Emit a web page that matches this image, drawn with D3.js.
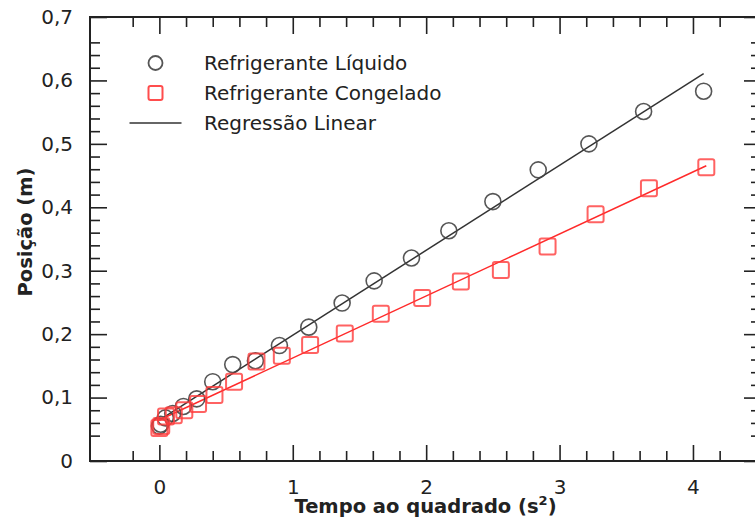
<!DOCTYPE html>
<html>
<head>
<meta charset="utf-8">
<script src="https://cdn.jsdelivr.net/npm/d3@7"></script>
<style>
  body { margin: 0; background: #fff; }
  text { font-family: "DejaVu Sans", Verdana, sans-serif; fill: #222; }
</style>
</head>
<body>
<div class="graph-container"></div>
<script>
// dados
var liquidoX = [0.00, 0.01, 0.045, 0.10, 0.18, 0.28, 0.40, 0.55, 0.72, 0.90, 1.12, 1.37, 1.61, 1.89, 2.17, 2.50, 2.84, 3.22, 3.63, 4.08];
var liquidoY = [0.055, 0.058, 0.068, 0.075, 0.086, 0.098, 0.125, 0.152, 0.158, 0.182, 0.211, 0.249, 0.284, 0.320, 0.363, 0.409, 0.459, 0.500, 0.551, 0.583];
var congeladoX = [0.00, 0.014, 0.05, 0.108, 0.187, 0.29, 0.413, 0.56, 0.728, 0.918, 1.13, 1.39, 1.66, 1.97, 2.26, 2.56, 2.91, 3.27, 3.67, 4.10];
var congeladoY = [0.052, 0.055, 0.070, 0.072, 0.080, 0.090, 0.104, 0.125, 0.157, 0.166, 0.183, 0.201, 0.232, 0.257, 0.283, 0.301, 0.338, 0.389, 0.430, 0.463];

var xTicks = [0, 1, 2, 3, 4];
var xMinor = [-0.2, 0.2, 0.4, 0.6, 0.8, 1.2, 1.4, 1.6, 1.8, 2.2, 2.4, 2.6, 2.8, 3.2, 3.4, 3.6, 3.8, 4.2];
var yTicks = [0, 0.1, 0.2, 0.3, 0.4, 0.5, 0.6, 0.7];
var yMinor = [0.04, 0.06, 0.08, 0.12, 0.14, 0.16, 0.18, 0.22, 0.24, 0.26, 0.28, 0.32, 0.34, 0.36, 0.38,
              0.42, 0.44, 0.46, 0.48, 0.52, 0.54, 0.56, 0.58, 0.62, 0.64, 0.66];
var legendas = ["Refrigerante Líquido", "Refrigerante Congelado", "Regressão Linear"];

var width = 755, height = 528;
var margin = { top: 17, left: 90, bottom: 67, right: -6 };

var svg = d3.select(".graph-container").append("svg")
    .attr("width", width)
    .attr("height", height);

var x = d3.scaleLinear()
    .domain([-0.52, 4.51])
    .range([margin.left, width - margin.right]);

var y = d3.scaleLinear()
    .domain([0, 0.7])
    .range([height - margin.bottom, margin.top]);

var fmtY = d => d === 0 ? "0" : d3.format(".1f")(d).replace(".", ",");
var fmtX = d3.format("d");

// regressão por minimos quadrados
function regressao(xs, ys) {
    var mx = d3.mean(xs), my = d3.mean(ys);
    var sxy = d3.sum(xs, (v, i) => (v - mx) * (ys[i] - my));
    var sxx = d3.sum(xs, v => (v - mx) * (v - mx));
    var b = sxy / sxx;
    return { a: my - b * mx, b: b };
}

function eixo(axis, tr, big, small, vals, minor) {
    var g = svg.append("g").attr("transform", tr);
    g.call(axis.tickValues(vals).tickSizeInner(-big).tickSizeOuter(0));
    svg.append("g").attr("transform", tr)
        .call(axis.tickValues(minor).tickSizeInner(-small).tickFormat(""));
    return g;
}

var yb = y(0), yt = y(0.7), xl = x.range()[0], xr = x.range()[1];

// eixo X
eixo(d3.axisBottom(x).tickPadding(19).tickFormat(fmtX), "translate(0," + yb + ")", 16, 10, xTicks, xMinor);
eixo(d3.axisTop(x).tickFormat(""), "translate(0," + yt + ")", 17, 10, xTicks, xMinor);
// eixo Y
eixo(d3.axisLeft(y).tickPadding(17).tickFormat(fmtY), "translate(" + xl + ",0)", 17, 10, yTicks, yMinor);
eixo(d3.axisRight(y).tickFormat(""), "translate(" + xr + ",0)", 17, 10, yTicks, yMinor);

svg.selectAll(".domain").remove();
svg.selectAll(".tick line").attr("stroke", "#222").attr("stroke-width", 1.6);
svg.selectAll(".tick text").style("font-size", "20px").attr("fill", "#333");

svg.append("rect")
    .attr("x", xl).attr("y", yt)
    .attr("width", xr - xl).attr("height", yb - yt)
    .attr("fill", "none").attr("stroke", "#222").attr("stroke-width", 2);

// titulos
var tx = svg.append("text")
    .attr("x", (xl + xr) / 2).attr("y", 513)
    .attr("text-anchor", "middle")
    .style("font-size", "19.5px").style("font-weight", "bold")
    .attr("fill", "#111");
tx.append("tspan").text("Tempo ao quadrado (s");
tx.append("tspan").text("2").attr("dy", -8).style("font-size", "13px");
tx.append("tspan").text(")").attr("dy", 8);

svg.append("text")
    .attr("transform", "translate(32," + ((yb + yt) / 2 - 7) + ") rotate(-90)")
    .attr("text-anchor", "middle")
    .style("font-size", "19.5px").style("font-weight", "bold")
    .attr("fill", "#111")
    .text("Posição (m)");

// linhas de regressão
var series = [
    { xs: liquidoX, ys: liquidoY, cor: "#333" },
    { xs: congeladoX, ys: congeladoY, cor: "#ff2a2a" }
];
series.forEach(s => {
    var r = regressao(s.xs, s.ys);
    var ext = d3.extent(s.xs);
    svg.append("line")
        .attr("x1", x(ext[0])).attr("y1", y(r.a + r.b * ext[0]))
        .attr("x2", x(ext[1])).attr("y2", y(r.a + r.b * ext[1]))
        .attr("stroke", s.cor).attr("stroke-width", 1.5);
});

// pontos
svg.append("g")
    .selectAll("circle")
    .data(liquidoX)
    .enter()
    .append("circle")
    .attr("cx", (d, i) => x(d))
    .attr("cy", (d, i) => y(liquidoY[i]))
    .attr("r", 8)
    .attr("fill", "none")
    .attr("stroke", "#444")
    .attr("stroke-opacity", 0.9)
    .attr("stroke-width", 1.6);

svg.append("g")
    .selectAll("rect")
    .data(congeladoX)
    .enter()
    .append("rect")
    .attr("x", d => x(d) - 8)
    .attr("y", (d, i) => y(congeladoY[i]) - 8)
    .attr("width", 16).attr("height", 16)
    .attr("rx", 2)
    .attr("fill", "none")
    .attr("stroke", "#ff3b3b")
    .attr("stroke-opacity", 0.8)
    .attr("stroke-width", 2);

// legenda
var lx = 155.5, ly = [63, 93, 123];
svg.append("circle").attr("cx", lx).attr("cy", ly[0]).attr("r", 7)
    .attr("fill", "none").attr("stroke", "#555").attr("stroke-width", 1.8);
svg.append("rect").attr("x", lx - 7).attr("y", ly[1] - 7).attr("width", 14).attr("height", 14).attr("rx", 2)
    .attr("fill", "none").attr("stroke", "#ff4d4d").attr("stroke-width", 2);
svg.append("line").attr("x1", lx - 26).attr("x2", lx + 26).attr("y1", ly[2]).attr("y2", ly[2])
    .attr("stroke", "#666").attr("stroke-width", 2.2);

svg.append("g")
    .selectAll("text")
    .data(legendas)
    .enter()
    .append("text")
    .attr("x", 204)
    .attr("y", (d, i) => ly[i])
    .attr("dy", "0.36em")
    .style("font-size", "20px")
    .attr("fill", "#222")
    .text(d => d);
</script>
</body>
</html>
